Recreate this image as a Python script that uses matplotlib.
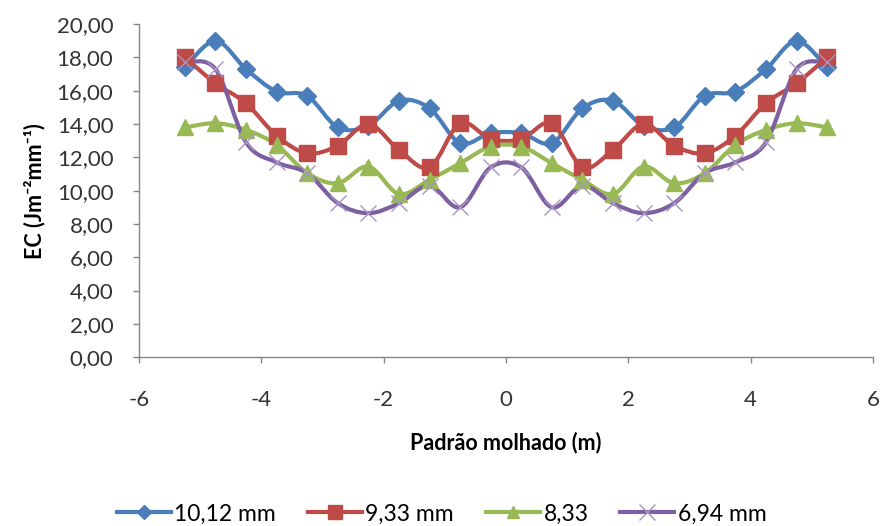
import numpy as np
import matplotlib
matplotlib.use("Agg")
import matplotlib.pyplot as plt
from matplotlib.path import Path
from matplotlib.patches import PathPatch
from matplotlib.lines import Line2D
from matplotlib.ticker import FuncFormatter

plt.rcParams['font.family'] = ['Lato', 'DejaVu Sans']
plt.rcParams['axes.unicode_minus'] = False

# Data
x_pos = [-5.25, -4.75, -4.25, -3.75, -3.25, -2.75, -2.25, -1.75, -1.25, -0.75, -0.25,
         0.25, 0.75, 1.25, 1.75, 2.25, 2.75, 3.25, 3.75, 4.25, 4.75, 5.25]
ec_1012 = [17.4, 19.0, 17.3, 15.95, 15.7, 13.8, 13.9, 15.4, 14.95, 12.85, 13.45,
           13.45, 12.85, 14.95, 15.4, 13.9, 13.8, 15.7, 15.95, 17.3, 19.0, 17.4]
ec_933 = [18.0, 16.45, 15.25, 13.3, 12.25, 12.7, 14.0, 12.45, 11.4, 14.05, 13.1,
          13.1, 14.05, 11.4, 12.45, 14.0, 12.7, 12.25, 13.3, 15.25, 16.45, 18.0]
ec_833 = [13.8, 14.05, 13.65, 12.75, 11.05, 10.45, 11.45, 9.8, 10.65, 11.65, 12.65,
          12.65, 11.65, 10.65, 9.8, 11.45, 10.45, 11.05, 12.75, 13.65, 14.05, 13.8]
ec_694 = [17.7, 17.3, 12.9, 11.7, 11.05, 9.25, 8.65, 9.25, 10.3, 9.0, 11.4,
          11.4, 9.0, 10.3, 9.25, 8.65, 9.25, 11.05, 11.7, 12.9, 17.3, 17.7]
labels = ['10,12 mm', '9,33 mm', '8,33', '6,94 mm']
series = [ec_1012, ec_933, ec_833, ec_694]

colors = ['#4A7EBB', '#BE4B48', '#98B954', '#7D60A0']
markers = ['D', 's', '^', 'x']
msizes = [9, 12, 11, 11]


def smooth_path(xs, ys):
    # Catmull-Rom style bezier, like Excel's smoothed lines
    pts = np.column_stack([xs, ys]).astype(float)
    n = len(pts)
    verts = [pts[0]]
    codes = [Path.MOVETO]
    for i in range(n - 1):
        p0 = pts[i - 1] if i > 0 else pts[i]
        p1 = pts[i]
        p2 = pts[i + 1]
        p3 = pts[i + 2] if i + 2 < n else pts[i + 1]
        c1 = p1 + (p2 - p0) / 6.0
        c2 = p2 - (p3 - p1) / 6.0
        verts += [c1, c2, p2]
        codes += [Path.CURVE4] * 3
    return Path(verts, codes)


fig = plt.figure(figsize=(8.8, 5.26), dpi=100)
ax = fig.add_axes([0.158, 0.321, 0.834, 0.633])

handles = []
for ys, lab, c, m, ms in zip(series, labels, colors, markers, msizes):
    ax.add_patch(PathPatch(smooth_path(x_pos, ys), fill=False, edgecolor=c,
                           linewidth=3, capstyle='round', joinstyle='round', zorder=2))
    if m == 'x':
        ax.plot(x_pos, ys, linestyle='none', marker=m, markersize=ms,
                markeredgecolor='#A894C4', markeredgewidth=1.0, zorder=3)
        h = Line2D([], [], color=c, linewidth=3, marker=m, markersize=ms,
                   markeredgecolor='#A894C4', markeredgewidth=1.0)
    else:
        ax.plot(x_pos, ys, linestyle='none', marker=m, markersize=ms,
                color=c, markeredgecolor=c, zorder=3)
        h = Line2D([], [], color=c, linewidth=3, marker=m, markersize=ms * 0.8,
                   markeredgecolor=c)
    handles.append(h)

ax.set_xlim(-6, 6)
ax.set_ylim(0, 20)
ax.set_xticks(np.arange(-6, 7, 2))
ax.set_yticks(np.arange(0, 21, 2))
ax.yaxis.set_major_formatter(FuncFormatter(lambda v, p: f"{v:.2f}".replace('.', ',')))
ax.xaxis.set_major_formatter(FuncFormatter(lambda v, p: f"{v:.0f}"))

for s in ['top', 'right']:
    ax.spines[s].set_visible(False)
for s in ['left', 'bottom']:
    ax.spines[s].set_color('#868686')
    ax.spines[s].set_linewidth(1)
ax.tick_params(axis='both', colors='#868686', labelcolor='#333333', labelsize=16,
               length=4.5, width=1, direction='out')
ax.tick_params(axis='x', pad=19)
ax.tick_params(axis='y', pad=14)

ax.set_xlabel('Padrão molhado (m)', fontsize=15.5, fontweight='bold', labelpad=16)
ax.set_ylabel('EC (Jm⁻²mm⁻¹)', fontsize=15.5, fontweight='bold', labelpad=8)

fig.legend(handles=handles, labels=labels, loc='center', ncol=4, frameon=False,
           fontsize=16.5, bbox_to_anchor=(0.502, 0.023), handlelength=2.35,
           columnspacing=1.4, handletextpad=0.15)

fig.savefig('out.png', dpi=100)
